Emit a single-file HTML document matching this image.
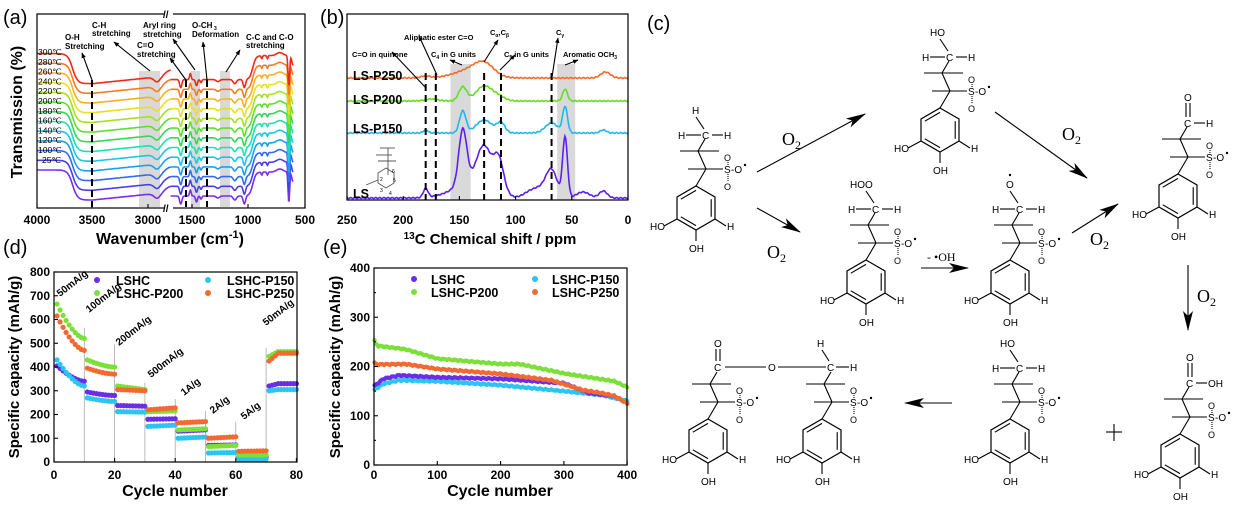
<!DOCTYPE html>
<html><head><meta charset="utf-8"><style>
html,body{margin:0;padding:0;background:#fff;width:1251px;height:514px;overflow:hidden}
svg{display:block;font-family:"Liberation Sans",Arial,sans-serif}
</style></head><body>
<svg id="s" width="1251" height="514" viewBox="0 0 1251 514" xmlns="http://www.w3.org/2000/svg">
<defs>
<marker id="ahs" viewBox="0 0 10 10" refX="9" refY="5" markerWidth="5" markerHeight="5" orient="auto"><path d="M0,1 L10,5 L0,9 z" fill="#000"/></marker>
<marker id="big" viewBox="0 0 20 10" refX="19" refY="5" markerWidth="20" markerHeight="10" markerUnits="userSpaceOnUse" orient="auto"><path d="M0,0 L20,5 L0,10 L5,5 z" fill="#000"/></marker>
</defs>
<g id="g"></g>
</svg>
<script>
(function(){
var NS="http://www.w3.org/2000/svg",G=document.getElementById('g');
function E(t,a,txt,p){var e=document.createElementNS(NS,t);for(var k in a)e.setAttribute(k,a[k]);if(txt!=null)e.textContent=txt;(p||G).appendChild(e);return e;}
function L(x1,y1,x2,y2,st){var a={x1:x1,y1:y1,x2:x2,y2:y2,stroke:'#000','stroke-width':1.1};for(var k in st)a[k]=st[k];return E('line',a);}
function T(x,y,s,sz,extra){var a={x:x,y:y,'font-size':sz||10};for(var k in extra)a[k]=extra[k];return E('text',a,s);}
function P(pts,col,w){var d='';pts.forEach(function(p,i){d+=(i?'L':'M')+p[0].toFixed(1)+','+p[1].toFixed(1)});return E('path',{d:d,fill:'none',stroke:col,'stroke-width':w||1.6});}
function gs(x,c,w){return Math.exp(-Math.pow((x-c)/w,2));}
function sig(x,c,w){return 1/(1+Math.exp(-(x-c)/w));}

T(3,24,'(a)',20);T(320,24,'(b)',20);T(647,30,'(c)',20);T(3,254,'(d)',20);T(323,254,'(e)',20);

// ===== (a) =====
var cols=['#7a2cf0','#4b3cf0','#2f6cf2','#1aa0f0','#18c8e8','#1ee0b0','#33d85a','#5ee02a','#a8e020','#e8e020','#f8b020','#f87a20','#f02818'];
E('rect',{x:139,y:71,width:21,height:136,fill:'#d9d9d9'});
E('rect',{x:191,y:71,width:9,height:136,fill:'#d9d9d9'});
E('rect',{x:220,y:71,width:10,height:136,fill:'#d9d9d9'});
function xl(w){return 37+(4000-w)*0.1113;}
function xr(w){return 192+(1500-w)*0.1126;}
for(var i=0;i<13;i++){
 var L0=170-i*9.7,pts=[],w,o;
 for(w=4000;w>=2800;w-=10){o=30*sig(-w,-3680,22)-8*Math.max(0,(3500-w)/700)+5*gs(w,2920,40)-6*sig(-w,-2850,20);pts.push([xl(w),L0+o]);}
 P(pts,cols[i],1.6);pts=[];
 for(w=1690;w>=600;w-=4){o=26+8*gs(w,1600,14)-6*gs(w,1515,10)+6*gs(w,1460,12)+3*gs(w,1420,10)+2*gs(w,1270,20)+4*gs(w,1120,20)+8*gs(w,1035,15)-24*sig(-w,-960,14)+3*gs(w,880,8)+3*gs(w,830,8)-3*gs(w,720,40)+30*gs(w,640,10)+10*sig(-w,-615,4);pts.push([xr(w),L0+o]);}
 P(pts,cols[i],1.6);
}
[92,186,207].forEach(function(d){L(d,80,d,207,{'stroke-width':2,'stroke-dasharray':'7,4'});});
E('rect',{x:37,y:14,width:268,height:194,fill:'none',stroke:'#000','stroke-width':1.2});
E('rect',{x:165,y:10,width:8,height:8,fill:'#fff'});E('rect',{x:165,y:204,width:8,height:8,fill:'#fff'});
T(163,18,'//',10,{'font-weight':'bold'});T(163,212,'//',10,{'font-weight':'bold'});
var tl=['300℃','280℃','260℃','240℃','220℃','200℃','180℃','160℃','140℃','120℃','100℃','25℃'];
tl.forEach(function(s,k){T(s=='25℃'?42:38,55+k*9.8,s,8.5);});
var an=[[65,40,'O-H'],[65,49,'Stretching'],[92,28,'C-H'],[92,36,'stretching'],[137,48,'C=O'],[137,57,'stretching'],[143,28,'Aryl ring'],[143,37,'stretching'],[192,28,'O-CH'],[192,37,'Deformation'],[246,40,'C-C and C-O'],[246,48,'stretching']];
an.forEach(function(a){T(a[0],a[1],a[2],8,{'font-weight':'bold'});});
T(214,30,'3',5,{'font-weight':'bold'});
[[92,80,82,53],[150,71,114,42],[186,80,170,58],[195,70,173,39],[207,80,203,42],[226,72,240,50]].forEach(function(a){L(a[0],a[1],a[2],a[3],{'marker-end':'url(#ahs)'});});
[[4000,37],[3500,92],[3000,148],[1500,192],[1000,248],[500,305]].forEach(function(t){T(t[1],224,t[0],12,{'text-anchor':'middle','font-weight':'bold'});L(t[1],208,t[1],204);});
T(22,112,'Transmission (%)',16,{'font-weight':'bold','text-anchor':'middle',transform:'rotate(-90 22 112)'});
var tw=T(170,244,'Wavenumber (cm',16,{'font-weight':'bold','text-anchor':'middle'});
E('tspan',{'baseline-shift':'super','font-size':11},'-1',tw);E('tspan',{},')',tw);

// ===== (b) =====
function xb(p){return 347+(250-p)*1.124;}
E('rect',{x:xb(158),y:64,width:xb(140)-xb(158),height:136,fill:'#d9d9d9'});
E('rect',{x:xb(63),y:64,width:xb(47)-xb(63),height:136,fill:'#d9d9d9'});
var specs=[
 [198,'#5a20f0',[[180,9,3],[147,55,5],[128,36,9],[115,30,6],[100,-3,10],[68,24,7],[56,60,3],[40,6,8],[22,7,5],[135,18,25],[80,10,15]]],
 [133,'#20b8ec',[[180,3,3],[147,22,4],[128,13,10],[113,10,5],[68,10,8],[56,26,3],[22,3,4]]],
 [101,'#66dd22',[[175,2,8],[147,14,5],[128,15,10],[115,4,8],[56,12,3]]],
 [78,'#f56a2a',[[140,8,20],[128,11,12],[180,2,6],[20,6,6]]]];
specs.forEach(function(s){var pts=[];for(var p=250;p>=0;p-=0.7){var y=s[0];s[2].forEach(function(g){y-=g[1]*gs(p,g[0],g[2]);});y+=Math.sin(p*1.7)*0.5;pts.push([xb(p),y]);}P(pts,s[1],1.6);});
[180,171,128,113,68].forEach(function(p){L(xb(p),73,xb(p),200,{'stroke-width':2,'stroke-dasharray':'7,4'});});
E('rect',{x:347,y:14,width:281,height:186,fill:'none',stroke:'#000','stroke-width':1.2});
T(353,80,'LS-P250',12.5,{'font-weight':'bold'});T(353,104,'LS-P200',12.5,{'font-weight':'bold'});T(353,133,'LS-P150',12.5,{'font-weight':'bold'});T(353,198,'LS',12.5,{'font-weight':'bold'});
var sg={stroke:'#555','stroke-width':0.9};
L(380,148,395,148,sg);L(376,155,392,155,sg);L(378,161,396,161,sg);L(388,148,388,175,sg);
E('polygon',{points:'386,168 394,173 394,183 386,188 378,183 378,173',fill:'none',stroke:'#555','stroke-width':0.9});
L(378,180,366,185,sg);T(380,181,'2',5);T(380,192,'3',5);T(389,195,'4',5);T(393,182,'5',5);T(392,173,'6',5);
T(404,40,'Aliphatic ester C=O',7.5,{'font-weight':'bold'});
T(352,57,'C=O in quinone',7.5,{'font-weight':'bold'});
var t4=T(431,57,'C',7.5,{'font-weight':'bold'});E('tspan',{'font-size':5,dy:2},'4',t4);E('tspan',{dy:-2},' in G units',t4);
var t5=T(504,57,'C',7.5,{'font-weight':'bold'});E('tspan',{'font-size':5,dy:2},'5',t5);E('tspan',{dy:-2},' in G units',t5);
var ta=T(490,35,'C',7.5,{'font-weight':'bold'});E('tspan',{'font-size':5,dy:2},'α',ta);E('tspan',{dy:-2},',C',ta);E('tspan',{'font-size':5,dy:2},'β',ta);
var tg=T(556,35,'C',7.5,{'font-weight':'bold'});E('tspan',{'font-size':5,dy:2},'γ',tg);
var to=T(563,57,'Aromatic OCH',7.5,{'font-weight':'bold'});E('tspan',{'font-size':5,dy:2},'3',to);
[[426,88,392,52],[437,75,419,36],[462,65,450,60],[484,62,498,40],[500,70,515,55],[552,77,558,38],[565,65,578,60]].forEach(function(a){L(a[0],a[1],a[2],a[3],{'marker-end':'url(#ahs)'});});
[250,200,150,100,50,0].forEach(function(p){T(xb(p),224,p,12,{'text-anchor':'middle','font-weight':'bold'});L(xb(p),200,xb(p),196);});
var tc=T(490,244,'',15,{'font-weight':'bold','text-anchor':'middle'});E('tspan',{'baseline-shift':'super','font-size':10},'13',tc);E('tspan',{},'C Chemical shift / ppm',tc);

// ===== (d) =====
var CP='#6a2ee8',CC='#2cc4f2',CG='#7de03a',CO='#f26a32';
function xd(c){return 54+c*3.03;}function yd(v){return 462-v*0.2375;}
[10,20,30,40,50,60,70].forEach(function(c,k){var h=[565,495,335,265,215,170,480][k];L(xd(c),462,xd(c),yd(h),{stroke:'#aaa','stroke-width':0.8});});
var dd=[[CP,[[405,340],[295,280],[238,235],[180,182],[130,135],[70,72],[20,20],[320,330]]],
[CC,[[430,320],[270,255],[212,210],[150,155],[100,105],[38,40],[12,12],[300,305]]],
[CG,[[665,520],[430,400],[320,305],[212,215],[135,140],[65,70],[30,30],[445,465]]],
[CO,[[615,470],[395,370],[305,300],[220,228],[165,170],[100,106],[45,47],[425,458]]]];
dd.forEach(function(s){s[1].forEach(function(seg,k){for(var j=0;j<10;j++){var c=k*10+j+1,t=j/9,v;if(k==0||k==1)v=seg[1]+(seg[0]-seg[1])*Math.pow(1-t,1.6);else if(k==7)v=seg[0]+(seg[1]-seg[0])*Math.min(1,t*3);else v=seg[0]+(seg[1]-seg[0])*t;E('circle',{cx:xd(c),cy:yd(v),r:2.6,fill:s[0]});}});});
E('rect',{x:54,y:272,width:243,height:190,fill:'none',stroke:'#000','stroke-width':1.2});
for(var v=0;v<=800;v+=100){T(50,yd(v)+4,v,12,{'text-anchor':'end','font-weight':'bold'});L(54,yd(v),58,yd(v));}
[0,20,40,60,80].forEach(function(c){T(xd(c),479,c,12,{'text-anchor':'middle','font-weight':'bold'});L(xd(c),462,xd(c),458);});
T(175,496,'Cycle number',16,{'font-weight':'bold','text-anchor':'middle'});
T(19,367,'Specific capacity (mAh/g)',15,{'font-weight':'bold','text-anchor':'middle',transform:'rotate(-90 19 367)'});
[[60,297,'50mA/g'],[89,313,'100mA/g'],[119,346,'200mA/g'],[151,378,'500mA/g'],[184,396,'1A/g'],[213,414,'2A/g'],[244,420,'5A/g'],[266,326,'50mA/g']].forEach(function(a){T(a[0],a[1],a[2],10,{'font-weight':'bold',transform:'rotate(-38 '+a[0]+' '+a[1]+')'});});
[[97,280,CP,'LSHC'],[97,293,CG,'LSHC-P200'],[208,280,CC,'LSHC-P150'],[208,293,CO,'LSHC-P250']].forEach(function(a){E('circle',{cx:a[0],cy:a[1],r:3,fill:a[2]});T(a[0]+19,a[1]+5,a[3],12.5,{'font-weight':'bold'});});

// ===== (e) =====
function xe(c){return 374+c*0.633;}function ye(v){return 465-v*0.4925;}
function interp(arr,c){for(var i=1;i<arr.length;i++){if(c<=arr[i][0]){var a=arr[i-1],b=arr[i],t=(c-a[0])/(b[0]-a[0]);return a[1]+(b[1]-a[1])*t;}}return arr[arr.length-1][1];}
var ed=[[CC,[[0,152],[15,165],[40,172],[100,170],[200,162],[300,150],[360,142],[400,130]]],
[CP,[[0,160],[15,175],[40,182],[100,178],[200,175],[300,166],[340,146],[380,140],[400,125]]],
[CO,[[0,208],[5,204],[50,205],[100,195],[200,185],[280,172],[330,152],[360,146],[380,140],[400,125]]],
[CG,[[0,255],[5,242],[50,235],[100,216],[200,205],[230,205],[300,186],[380,170],[400,158]]]];
ed.forEach(function(s){for(var c=1;c<=400;c+=3){var v=interp(s[1],c)+Math.sin(c*0.7)*1.2;E('circle',{cx:xe(c),cy:ye(v),r:2.2,fill:s[0]});}});
E('rect',{x:374,y:268,width:253,height:197,fill:'none',stroke:'#000','stroke-width':1.2});
for(var v2=0;v2<=400;v2+=100){T(370,ye(v2)+4,v2,12,{'text-anchor':'end','font-weight':'bold'});L(374,ye(v2),378,ye(v2));if(v2<400)L(374,ye(v2+50),376,ye(v2+50));}
[0,100,200,300,400].forEach(function(c){T(xe(c),479,c,12,{'text-anchor':'middle','font-weight':'bold'});L(xe(c),465,xe(c),461);});
T(500,496,'Cycle number',16,{'font-weight':'bold','text-anchor':'middle'});
T(340,367,'Specific capacity (mAh/g)',15,{'font-weight':'bold','text-anchor':'middle',transform:'rotate(-90 340 367)'});
[[414,279,CP,'LSHC'],[414,292,CG,'LSHC-P200'],[535,279,CC,'LSHC-P150'],[535,292,CO,'LSHC-P250']].forEach(function(a){E('circle',{cx:a[0],cy:a[1],r:3,fill:a[2]});T(a[0]+17,a[1]+5,a[3],12.5,{'font-weight':'bold'});});

// ===== (c) chemistry =====
function ring(cx,cy){var r=22;
 var pts=[[cx,cy-r],[cx+19,cy-r/2],[cx+19,cy+r/2],[cx,cy+r],[cx-19,cy+r/2],[cx-19,cy-r/2]];
 E('polygon',{points:pts.map(function(p){return p.join(',')}).join(' '),fill:'none',stroke:'#000','stroke-width':1.2});
 function inner(a,b){var f=0.8;L(cx+(a[0]-cx)*f,cy+(a[1]-cy)*f,cx+(b[0]-cx)*f,cy+(b[1]-cy)*f);}
 inner(pts[0],pts[5]);inner(pts[1],pts[2]);inner(pts[3],pts[4]);
 L(pts[4][0],pts[4][1],cx-32,cy+18);T(cx-46,cy+22,'HO',10);
 L(pts[3][0],pts[3][1],cx,cy+33);T(cx-7,cy+44,'OH',10);
 L(pts[2][0],pts[2][1],cx+30,cy+18);T(cx+31,cy+22,'H',10);}
function so(ax,ay){L(ax-18,ay,ax+17,ay);T(ax+18,ay+4,'S',10);T(ax+25,ay+4,'-O',10);E('circle',{cx:ax+39,cy:ay-4,r:1.2,fill:'#000'});
 T(ax+18,ay-8,'O',9);T(ax+18,ay+21,'O',9);L(ax+22,ay-7,ax+22,ay-4,{'stroke-dasharray':'1,1'});L(ax+22,ay+5,ax+22,ay+12,{'stroke-dasharray':'1,1'});}
function unit(ax,ay){so(ax,ay);L(ax,ay,ax-8,ay-18);L(ax-26,ay-18,ax+13,ay-18);L(ax-8,ay-18,ax-1,ay-30);
 var cx=ax-10,cy=ay+39;L(ax,ay,cx,cy-22);ring(cx,cy);}
function topg(ax,ay,kind){var cy=ay-34;T(ax-4,cy+4,'C',10);
 if(kind=='CHO'||kind=='COOH'){L(ax+6,cy,ax+17,cy);T(ax+18,cy+4,kind=='CHO'?'H':'OH',10);L(ax-2,cy-6,ax-2,cy-20);L(ax+2,cy-6,ax+2,cy-20);T(ax-4,cy-22,'O',10);return;}
 L(ax-20,cy,ax-5,cy);T(ax-28,cy+4,'H',10);L(ax+6,cy,ax+17,cy);T(ax+18,cy+4,'H',10);
 L(ax-2,cy-6,ax-10,cy-18);
 if(kind=='CH3')T(ax-14,cy-21,'H',10);
 if(kind=='OH')T(ax-20,cy-21,'HO',10);
 if(kind=='OOH')T(ax-26,cy-21,'HOO',10);
 if(kind=='O'){T(ax-14,cy-21,'O',10);E('circle',{cx:ax-10,cy:cy-34,r:1.2,fill:'#000'});}}
function mol(ax,ay,kind){unit(ax,ay);topg(ax,ay,kind);}
mol(706,169,'CH3');
mol(950,91,'OH');
mol(1188,157,'CHO');
mol(876,243,'OOH');
mol(1020,243,'O');
mol(1190,417,'COOH');
mol(1020,402,'OH');
unit(718,402);unit(832,402);
T(714,371,'C',10);L(716,361,716,349);L(720,361,720,349);T(714,347,'O',10);
L(725,367,766,367);T(768,371,'O',10);L(778,367,826,367);T(827,371,'C',10);L(836,367,849,367);T(850,371,'H',10);L(829,361,822,350);T(817,347,'H',10);
function arr(x1,y1,x2,y2){L(x1,y1,x2,y2,{'marker-end':'url(#big)'});}
arr(757,172,865,114);arr(757,208,800,232);arr(995,112,1087,178);arr(921,268,968,268);arr(1072,233,1118,204);arr(1188,265,1188,330);arr(952,403,905,403);
function o2(x,y){var t=T(x,y,'O',18,{'font-family':'Liberation Serif,serif'});E('tspan',{'font-size':12,dy:4},'2',t);}
o2(782,145);o2(767,258);o2(1062,140);o2(1090,245);o2(1197,302);
T(927,261,'- •OH',12,{'font-family':'Liberation Serif,serif'});
L(1106,432,1122,432);L(1114,424,1114,441);
})();
</script>
</body></html>
